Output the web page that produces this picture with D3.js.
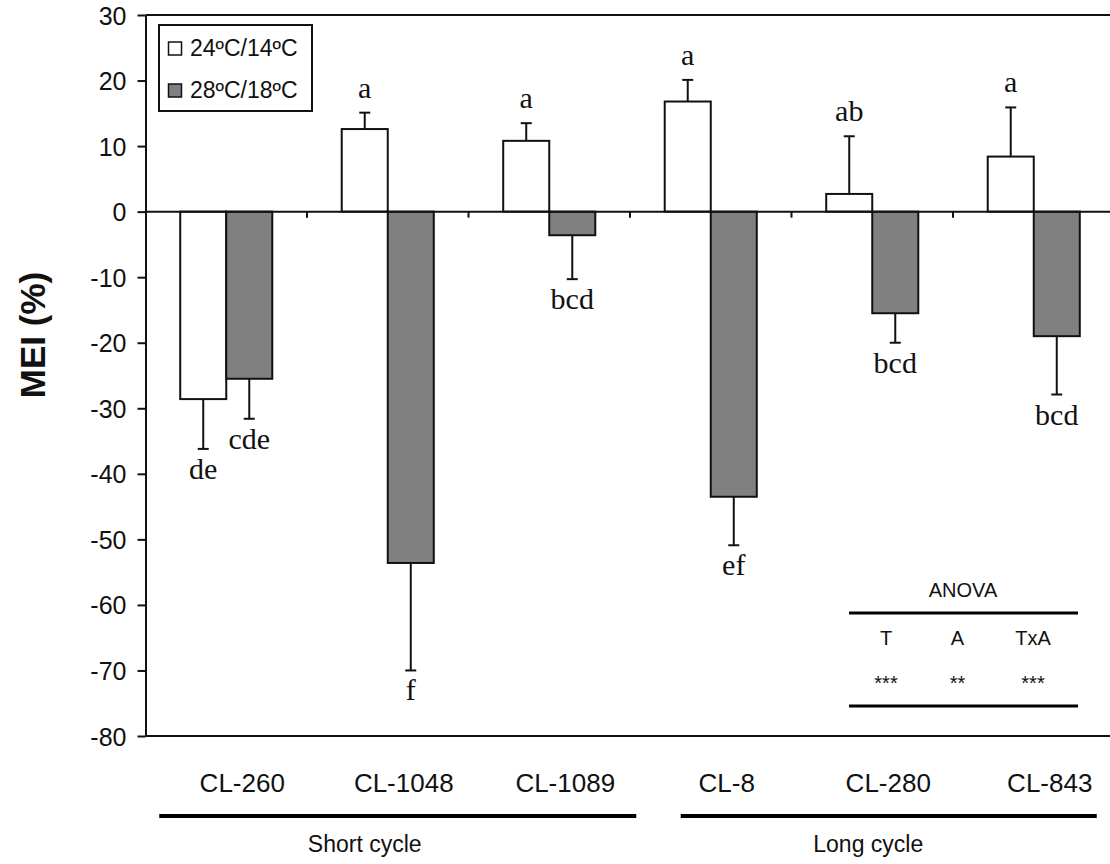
<!DOCTYPE html>
<html>
<head>
<meta charset="utf-8">
<script src="https://cdn.jsdelivr.net/npm/d3@7"></script>
<style>
  body { margin: 0; background: #fff; }
  svg { display: block; }
</style>
</head>
<body>
<div id="chart"></div>
<script>
// MEI (%) per clone at two temperature regimes

const categories = ['CL-260', 'CL-1048', 'CL-1089', 'CL-8', 'CL-280', 'CL-843'];
const series = ['24ºC/14ºC', '28ºC/18ºC'];
const mei24 = [-28.6, 12.6, 10.8, 16.8, 2.7, 8.4];
const err24 = [7.6, 2.5, 2.7, 3.3, 8.8, 7.5];
const mei28 = [-25.5, -53.6, -3.6, -43.5, -15.5, -19.0];
const err28 = [6.1, 16.4, 6.7, 7.4, 4.5, 8.9];
const letters24 = ['de', 'a', 'a', 'a', 'ab', 'a'];
const letters28 = ['cde', 'f', 'bcd', 'ef', 'bcd', 'bcd'];
const yTicks = [30, 20, 10, 0, -10, -20, -30, -40, -50, -60, -70, -80];
const groupNames = ['Short cycle', 'Long cycle'];
const groupMembers = [['CL-260', 'CL-1048', 'CL-1089'], ['CL-8', 'CL-280', 'CL-843']];
const anovaTerms = ['T', 'A', 'TxA'];
const anovaSig = ['***', '**', '***'];

const width = 1110;
const height = 864;
const sans = '"Liberation Sans", Arial, sans-serif';
const serif = '"Liberation Serif", "Times New Roman", serif';
const fills = ['#ffffff', '#808080'];

const svg = d3.select('#chart')
  .append('svg')
  .attr('width', width)
  .attr('height', height);

const plotL = 145.5, plotR = 1114.5, plotT = 15, plotB = 736;

const x = d3.scaleBand()
  .domain(categories)
  .range([plotL, plotR])
  .paddingInner(0.43)
  .paddingOuter(0.215);

const xs = d3.scaleBand().domain(series).range([0, x.bandwidth()]);

const y = d3.scaleLinear().domain([-80, 30]).range([plotB, plotT]);

// plot frame (top + bottom)
svg.append('line')
  .attr('x1', plotL).attr('x2', width)
  .attr('y1', plotT).attr('y2', plotT)
  .attr('stroke', '#111').attr('stroke-width', 2);
svg.append('line')
  .attr('x1', plotL).attr('x2', width)
  .attr('y1', plotB).attr('y2', plotB)
  .attr('stroke', '#111').attr('stroke-width', 2);

// y axis
const yAxis = svg.append('g')
  .attr('transform', `translate(${plotL},0)`)
  .call(d3.axisLeft(y).tickValues(yTicks).tickFormat(d => String(d))
    .tickSize(8).tickPadding(11).tickSizeOuter(0));
yAxis.select('.domain').attr('stroke', '#111').attr('stroke-width', 2);
yAxis.selectAll('.tick line').attr('stroke', '#111').attr('stroke-width', 2);
yAxis.selectAll('.tick text')
  .attr('font-family', sans)
  .attr('font-size', 25)
  .attr('fill', '#111')
  .attr('dy', '0.36em');

svg.append('text')
  .attr('transform', `translate(45,335) rotate(-90)`)
  .attr('text-anchor', 'middle')
  .attr('font-family', sans)
  .attr('font-weight', 'bold')
  .attr('font-size', 35)
  .attr('fill', '#111')
  .text('MEI (%)');

// bars
const rows = categories.map((c, i) => [
  { cat: c, s: series[0], v: mei24[i], e: err24[i], lab: letters24[i], fill: fills[0] },
  { cat: c, s: series[1], v: mei28[i], e: err28[i], lab: letters28[i], fill: fills[1] }
]).flat();

const bars = svg.append('g');
bars.selectAll('rect')
  .data(rows)
  .enter().append('rect')
  .attr('x', d => x(d.cat) + xs(d.s))
  .attr('width', xs.bandwidth())
  .attr('y', d => y(Math.max(0, d.v)))
  .attr('height', d => Math.abs(y(d.v) - y(0)))
  .attr('fill', d => d.fill)
  .attr('stroke', '#111')
  .attr('stroke-width', 2);

// error bars (outward side only)
const errEnd = d => d.v >= 0 ? d.v + d.e : d.v - d.e;
const cx = d => x(d.cat) + xs(d.s) + xs.bandwidth() / 2;

const eb = svg.append('g').attr('stroke', '#111').attr('stroke-width', 2);
eb.selectAll('line.v')
  .data(rows)
  .enter().append('line')
  .attr('class', 'v')
  .attr('x1', cx).attr('x2', cx)
  .attr('y1', d => y(d.v)).attr('y2', d => y(errEnd(d)));
eb.selectAll('line.cap')
  .data(rows)
  .enter().append('line')
  .attr('class', 'cap')
  .attr('x1', d => cx(d) - 5.5).attr('x2', d => cx(d) + 5.5)
  .attr('y1', d => y(errEnd(d))).attr('y2', d => y(errEnd(d)));

// significance letters
svg.append('g').selectAll('text')
  .data(rows)
  .enter().append('text')
  .attr('x', cx)
  .attr('y', d => d.v >= 0 ? y(errEnd(d)) - 15 : y(errEnd(d)) + 30)
  .attr('text-anchor', 'middle')
  .attr('font-family', serif)
  .attr('font-size', 30)
  .attr('fill', '#111')
  .text(d => d.lab);

// zero line with category boundary ticks
svg.append('line')
  .attr('x1', plotL).attr('x2', width)
  .attr('y1', y(0)).attr('y2', y(0))
  .attr('stroke', '#111').attr('stroke-width', 2);
const bounds = categories.slice(1).map(c => x(c) - x.step() * x.paddingInner() / 2);
svg.append('g').selectAll('line')
  .data(bounds)
  .enter().append('line')
  .attr('x1', d => d).attr('x2', d => d)
  .attr('y1', y(0)).attr('y2', y(0) + 6)
  .attr('stroke', '#111').attr('stroke-width', 2);

// category labels
svg.append('g').selectAll('text')
  .data(categories)
  .enter().append('text')
  .attr('x', d => x(d) + x.bandwidth() / 2 + 16)
  .attr('y', 792)
  .attr('text-anchor', 'middle')
  .attr('font-family', sans)
  .attr('font-size', 26)
  .attr('fill', '#111')
  .text(d => d);

// group brackets
const groupExt = [[-21, 41], [16, 17]];
groupNames.forEach((g, i) => {
  const m = groupMembers[i];
  const x1 = x(m[0]) + groupExt[i][0];
  const x2 = x(m[m.length - 1]) + x.bandwidth() + groupExt[i][1];
  svg.append('line')
    .attr('x1', x1).attr('x2', x2)
    .attr('y1', 816).attr('y2', 816)
    .attr('stroke', '#000').attr('stroke-width', 4);
  const mid = (x(m[0]) + x(m[m.length - 1]) + x.bandwidth()) / 2;
  svg.append('text')
    .attr('x', mid + (i === 0 ? -23 : -4))
    .attr('y', 852)
    .attr('text-anchor', 'middle')
    .attr('font-family', sans)
    .attr('font-size', 23)
    .attr('fill', '#111')
    .text(g);
});

// legend
const legend = svg.append('g');
legend.append('rect')
  .attr('x', 159).attr('y', 25)
  .attr('width', 153).attr('height', 86)
  .attr('fill', '#fff')
  .attr('stroke', '#111').attr('stroke-width', 2);
series.forEach((s, i) => {
  legend.append('rect')
    .attr('x', 168.5).attr('y', 42 + i * 42)
    .attr('width', 13).attr('height', 13)
    .attr('fill', fills[i])
    .attr('stroke', '#111').attr('stroke-width', 1.5);
  legend.append('text')
    .attr('x', 190).attr('y', 56 + i * 42)
    .attr('font-family', sans)
    .attr('font-size', 23)
    .attr('fill', '#111')
    .text(s);
});

// ANOVA table
const anova = svg.append('g').attr('font-family', sans).attr('fill', '#111');
const ax = d3.scalePoint().domain(anovaTerms).range([886, 1033]);
anova.append('text')
  .attr('x', 963).attr('y', 597)
  .attr('text-anchor', 'middle')
  .attr('font-size', 20)
  .text('ANOVA');
anova.append('line')
  .attr('x1', 849).attr('x2', 1078)
  .attr('y1', 613).attr('y2', 613)
  .attr('stroke', '#000').attr('stroke-width', 3);
anova.selectAll('text.term')
  .data(anovaTerms)
  .enter().append('text')
  .attr('class', 'term')
  .attr('x', d => ax(d) - (d === 'A' ? 2 : 0)).attr('y', 645)
  .attr('text-anchor', 'middle')
  .attr('font-size', 20)
  .text(d => d);
anova.selectAll('text.sig')
  .data(anovaTerms)
  .enter().append('text')
  .attr('class', 'sig')
  .attr('x', d => ax(d) - (d === 'A' ? 2 : 0)).attr('y', 690)
  .attr('text-anchor', 'middle')
  .attr('font-size', 20)
  .text((d, i) => anovaSig[i]);
anova.append('line')
  .attr('x1', 849).attr('x2', 1078)
  .attr('y1', 706).attr('y2', 706)
  .attr('stroke', '#000').attr('stroke-width', 3);
</script>
</body>
</html>
